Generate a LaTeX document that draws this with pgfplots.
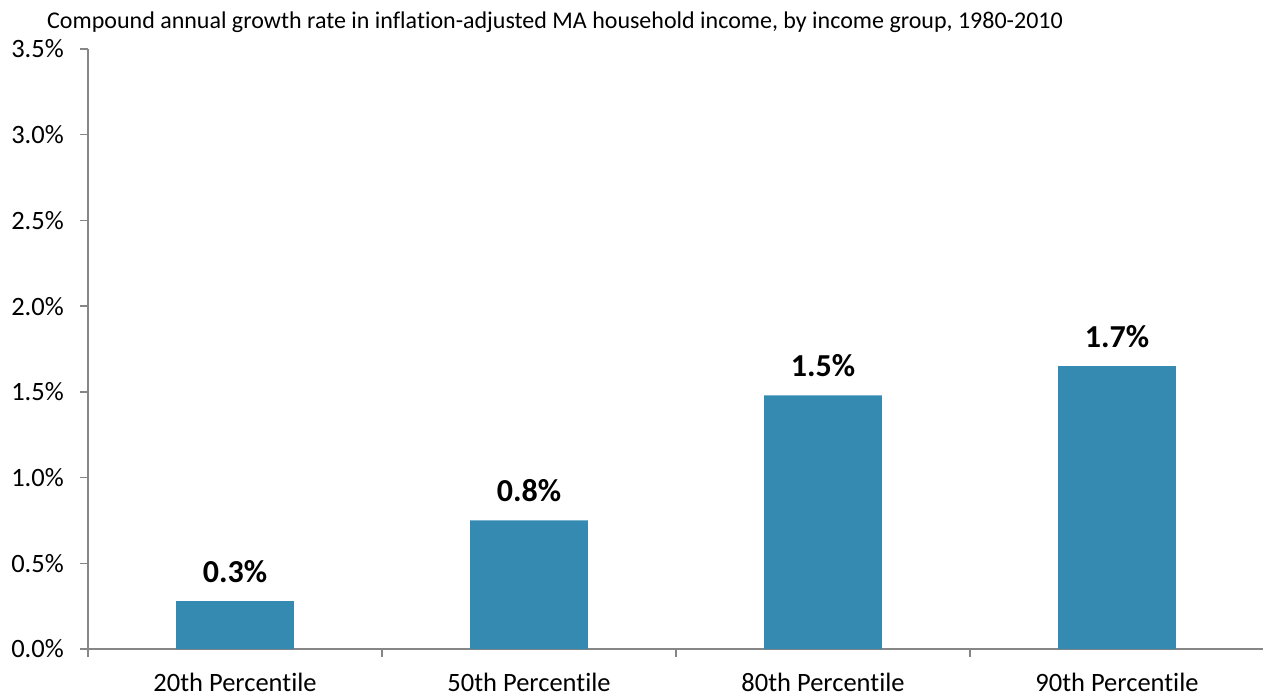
\documentclass[border=0pt]{standalone}
\usepackage{fontspec}
\setmainfont{Carlito}[Ligatures=NoCommon]
\usepackage{pgfplots}
\pgfplotsset{compat=1.18}
\definecolor{barblue}{RGB}{53,138,178}
\definecolor{axgray}{RGB}{134,134,134}
\begin{document}
\begin{tikzpicture}
\begin{axis}[
  scale only axis, width=1176bp, height=600bp,
  xmin=-0.5, xmax=3.5, ymin=0, ymax=3.5,
  clip=false,
  axis x line*=bottom, axis y line*=left,
  axis line style={axgray, line width=1.5bp, -},
  tick style={draw=axgray, line width=1.5bp},
  ytick style={draw=axgray, line width=1.5bp},
  major tick length=8bp,
  tick align=outside,
  ytick pos=left,
  xtick={-0.5,0.5,1.5,2.5,3.5},
  xticklabels={},
  extra x ticks={0,1,2,3},
  extra x tick labels={20th Percentile,50th Percentile,80th Percentile,90th Percentile},
  extra x tick style={tick style={draw=none}},
  ytick={0,0.5,1,1.5,2,2.5,3,3.5},
  /pgf/number format/assume math mode=true,
  yticklabel={\pgfmathprintnumber[fixed,fixed zerofill,precision=1]{\tick}\%},
  yticklabel style={font=\fontsize{26.5bp}{30bp}\selectfont, text=black, anchor=east, inner sep=0pt, xshift=-16bp},
  xticklabel style={font=\fontsize{26.5bp}{30bp}\selectfont, text=black, anchor=base, inner sep=0pt, yshift=-34bp},
  ybar, bar width=117.6bp,
  point meta=explicit symbolic,
  nodes near coords,
  nodes near coords style={font=\bfseries\fontsize{32bp}{36bp}\selectfont, text=black, anchor=base, inner sep=0pt, yshift=19bp},
]
\addplot[fill=barblue, draw=none] coordinates {
  (0,0.28) [0.3\%]
  (1,0.75) [0.8\%]
  (2,1.48) [1.5\%]
  (3,1.65) [1.7\%]
};
\coordinate (tl) at (rel axis cs:0,1);
\end{axis}
\node[anchor=base west, inner sep=0pt, font=\fontsize{24bp}{28bp}\selectfont] at ([xshift=-41bp, yshift=20.5bp]tl) {Compound annual growth rate in inflation-adjusted MA household income, by income group, 1980-2010};
\pgfresetboundingbox
\path (-88bp,-47bp) rectangle (1175bp,649bp);
\end{tikzpicture}
\end{document}
